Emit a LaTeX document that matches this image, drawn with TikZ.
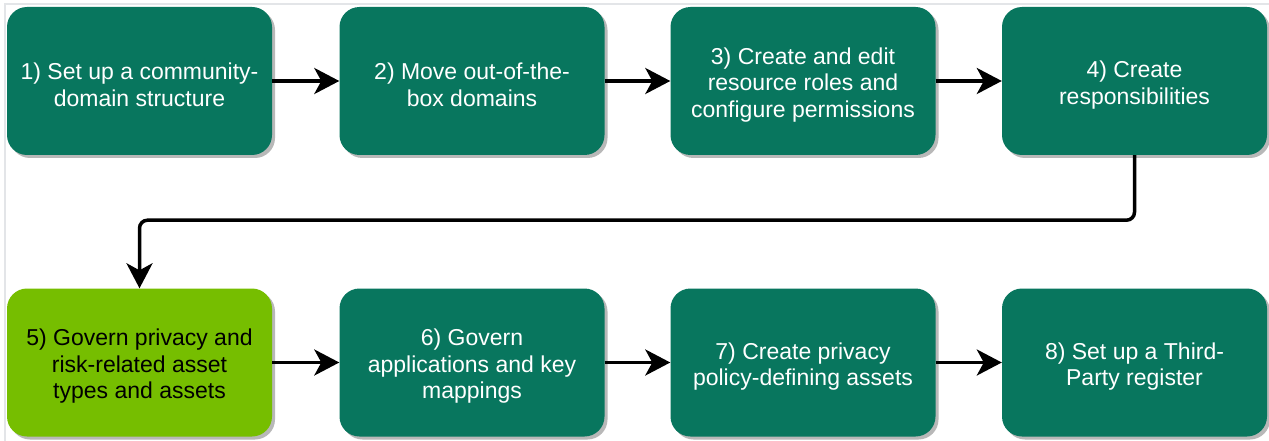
\documentclass[tikz,border=0pt]{standalone}
\usepackage{fontspec}
\setmainfont{Liberation Sans}
\usetikzlibrary{arrows.meta,shadows}

\definecolor{dkgreen}{HTML}{08765E}
\definecolor{ltgreen}{HTML}{76BE00}
\definecolor{framegray}{HTML}{E3E5E8}

\begin{document}
\begin{tikzpicture}[x=1pt,y=-1pt,
  stepbox/.style={draw=none, rounded corners=20pt, minimum width=265pt, minimum height=148pt,
    fill=dkgreen, inner sep=0pt,
    drop shadow={shadow xshift=3pt, shadow yshift=-3pt, fill=black!28, opacity=1}},
  steptext/.style={align=center, font=\fontsize{23}{26.5}\selectfont, text=white, inner sep=0pt, yshift=-4pt},
  hilite/.style={fill=ltgreen},
  darktext/.style={text=black},
  conn/.style={line width=3.5pt, -{Stealth[length=25pt,width=26pt,inset=7pt]}}]
\useasboundingbox (0,0) rectangle (1269,441);
\fill[white] (0,0) rectangle (1269,441);
\draw[framegray, line width=1.5pt] (5,441) -- (5,4) -- (1269,4);

\node[stepbox] (s1) at (139.5,81) {};
\node[stepbox] (s2) at (472,81) {};
\node[stepbox] (s3) at (803,81) {};
\node[stepbox] (s4) at (1134.5,81) {};
\node[stepbox, hilite] (s5) at (139.5,362.5) {};
\node[stepbox] (s6) at (472,362.5) {};
\node[stepbox] (s7) at (803,362.5) {};
\node[stepbox] (s8) at (1134.5,362.5) {};

\node[steptext] (t1) at (s1) {1) Set up a community-\\domain structure};
\node[steptext] (t2) at (s2) {2) Move out-of-the-\\box domains};
\node[steptext] (t3) at (s3) {3) Create and edit\\resource roles and\\configure permissions};
\node[steptext] (t4) at (s4) {4) Create\\responsibilities};
\node[steptext, darktext] (t5) at (s5) {5) Govern privacy and\\risk-related asset\\types and assets};
\node[steptext] (t6) at (s6) {6) Govern\\applications and key\\mappings};
\node[steptext] (t7) at (s7) {7) Create privacy\\policy-defining assets};
\node[steptext] (t8) at (s8) {8) Set up a Third-\\Party register};

\draw[conn] (s1) -- (s2);
\draw[conn] (s2) -- (s3);
\draw[conn] (s3) -- (s4);
\draw[conn, rounded corners=8pt] (s4.south) -- ++(0,65) -| (s5.north);
\draw[conn] (s5) -- (s6);
\draw[conn] (s6) -- (s7);
\draw[conn] (s7) -- (s8);
\end{tikzpicture}
\end{document}
